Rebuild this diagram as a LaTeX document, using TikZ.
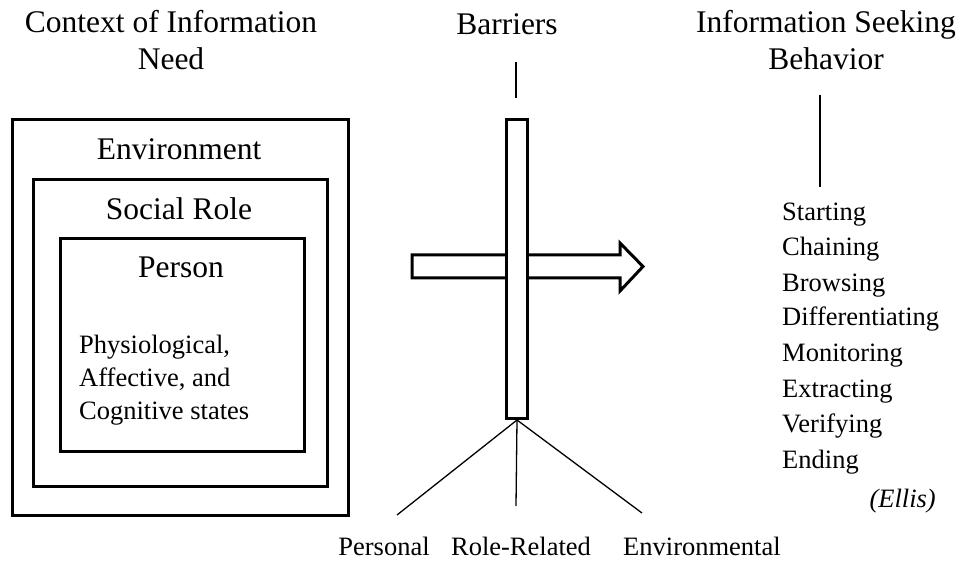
\documentclass[tikz,border=0pt]{standalone}
\usepackage{fontspec}
\setmainfont{Liberation Serif}
\begin{document}
\begin{tikzpicture}[x=1pt,y=-1pt,
  box/.style={draw, line width=3pt, inner sep=0pt},
  big/.style={font=\fontsize{31.5}{37}\selectfont, inner sep=0pt, anchor=base},
  small/.style={font=\fontsize{26.5}{32}\selectfont, inner sep=0pt, anchor=base},
  item/.style={small, anchor=base west},
  thinline/.style={line width=1.3pt}]
\useasboundingbox (0,0) rectangle (961,561);
% nested context boxes
\node[box, minimum width=336pt, minimum height=396pt, anchor=north west] (env) at (11,118) {};
\node[box, minimum width=294pt, minimum height=307pt, anchor=north west] (role) at (32,178) {};
\node[box, minimum width=244pt, minimum height=213pt, anchor=north west] (person) at (59,237) {};
\node[big] (lenv) at (179,160) {Environment};
\node[big] (lrole) at (179,220) {Social Role};
\node[big] (lperson) at (181,278) {Person};
\node[item] (st1) at (79,353) {Physiological,};
\node[item] (st2) at (79,386) {Affective, and};
\node[item] (st3) at (79,419) {Cognitive states};
% titles
\node[big] (tctx1) at (171,33) {Context of Information};
\node[big] (tctx2) at (171,70) {Need};
\node[big] (tbar) at (507,35) {Barriers};
\node[big] (tisb1) at (826,33) {Information Seeking};
\node[big] (tisb2) at (826,70) {Behavior};
\coordinate (bt) at (516,62);
\coordinate (bb) at (516,98);
\draw[thinline] (bt) -- (bb);
\coordinate (it) at (820,95);
\coordinate (ib) at (820,187);
\draw[thinline] (it) -- (ib);
% arrow
\draw[line width=3pt, fill=white] (412,255) -- (620,255) -- (620,243) -- (643,266.5) -- (620,291) -- (620,278) -- (412,278) -- cycle;
% barrier bar
\node[box, fill=white, minimum width=21pt, minimum height=299pt, anchor=north] (bar) at (517,118) {};
% barrier branches
\coordinate (pe) at (397,515);
\coordinate (re) at (516,506);
\coordinate (ee) at (642,513);
\draw[thinline] (bar.south) -- (pe);
\draw[thinline] (bar.south) -- (re);
\draw[thinline] (bar.south) -- (ee);
\node[small] (lpers) at (384,555) {Personal};
\node[small] (lroler) at (521,555) {Role-Related};
\node[small, anchor=base west] (lenvr) at (623,555) {Environmental};
% Ellis stages
\node[item] (s1) at (782,221) {Starting};
\node[item] (s2) at (782,256) {Chaining};
\node[item] (s3) at (782,291) {Browsing};
\node[item] (s4) at (782,326) {Differentiating};
\node[item] (s5) at (782,361) {Monitoring};
\node[item] (s6) at (782,397) {Extracting};
\node[item] (s7) at (782,432) {Verifying};
\node[item] (s8) at (782,468) {Ending};
\node[small, anchor=base east, font=\fontsize{26.5}{32}\selectfont\itshape] (ellis) at (936,507) {(Ellis)};
\end{tikzpicture}
\end{document}
